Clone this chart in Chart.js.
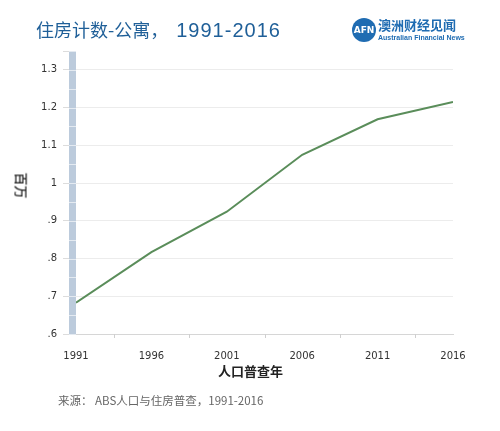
<!DOCTYPE html>
<html lang="zh-CN">
<head>
    <meta charset="UTF-8">
    <title>住房计数-公寓</title>
    <script src="https://cdn.jsdelivr.net/npm/chart.js"></script>
    <style>
        body {
            margin: 0;
            padding: 0;
            background: #fff;
            font-family: "Noto Sans CJK SC", "Noto Sans", sans-serif;
        }
        #wrap {
            position: relative;
            width: 500px;
            height: 431px;
            overflow: hidden;
        }
        #chart {
            position: absolute;
            left: 0;
            top: 0;
        }
        .txt {
            position: absolute;
            white-space: nowrap;
        }
        #title {
            left: 36px;
            top: 16px;
            font-size: 18px;
            color: #1f5f98;
        }
        #title .num {
            font-family: "Liberation Sans", sans-serif;
            font-size: 20px;
            letter-spacing: 1px;
            margin-left: 8px;
        }
        #logo {
            left: 352px;
            top: 18px;
            width: 24px;
            height: 24px;
            border-radius: 50%;
            background: #1f6cb2;
            color: #fff;
            font: bold 9px "DejaVu Sans", sans-serif;
            text-align: center;
            line-height: 24px;
        }
        #logoCn {
            left: 378px;
            top: 15px;
            font-size: 13px;
            font-weight: 600;
            color: #1f6cb2;
        }
        #logoEn {
            left: 378px;
            top: 34px;
            font: bold 7px "Liberation Sans", sans-serif;
            color: #1f6cb2;
        }
        #ytitle {
            left: 9px;
            top: 176px;
            font-size: 13px;
            font-weight: 500;
            color: #222;
            transform: rotate(90deg);
            transform-origin: 50% 50%;
        }
        #xtitle {
            left: 218px;
            top: 361px;
            font-size: 13px;
            font-weight: 600;
            color: #222;
        }
        #source {
            left: 58px;
            top: 392px;
            font-size: 11.5px;
            color: #666;
        }
    </style>
</head>
<body>
    <div id="wrap">
        <canvas id="chart" width="500" height="431"></canvas>
        <div class="txt" id="title">住房计数-公寓，<span class="num">1991-2016</span></div>
        <div class="txt" id="logo">AFN</div>
        <div class="txt" id="logoCn">澳洲财经见闻</div>
        <div class="txt" id="logoEn">Australian Financial News</div>
        <div class="txt" id="ytitle">百万</div>
        <div class="txt" id="xtitle">人口普查年</div>
        <div class="txt" id="source">来源： ABS人口与住房普查，1991-2016</div>
    </div>

    <script>
        // 人口普查年份
        var years = [1991, 1996, 2001, 2006, 2011, 2016];
        // 公寓数量（百万）
        var apartments = [0.683, 0.817, 0.924, 1.075, 1.169, 1.215];
        // 刻度
        var yTicks = [0.6, 0.7, 0.8, 0.9, 1.0, 1.1, 1.2, 1.3];
        var yTickLabels = [".6", ".7", ".8", ".9", "1", "1.1", "1.2", "1.3"];

        var yMin = 0.6, yMax = 1.35;

        // 左侧的蓝灰色竖条 + 年份之间的小刻度
        var decorPlugin = {
            id: 'decor',
            afterDraw: function(chart) {
                var ctx = chart.ctx;
                var area = chart.chartArea;
                var y = chart.scales.y;
                var x = chart.scales.x;
                ctx.save();
                ctx.fillStyle = '#bccbdc';
                ctx.fillRect(area.left - 7, area.top, 7, area.bottom - area.top);
                ctx.strokeStyle = '#e4eaf1';
                ctx.lineWidth = 1;
                for (var v = yMin; v <= yMax + 0.001; v += 0.05) {
                    var py = Math.round(y.getPixelForValue(v)) + 0.5;
                    ctx.beginPath();
                    ctx.moveTo(area.left - 7, py);
                    ctx.lineTo(area.left, py);
                    ctx.stroke();
                }
                // 顶部的短刻度
                ctx.strokeStyle = '#dcdcdc';
                ctx.beginPath();
                ctx.moveTo(area.left - 13, area.top + 0.5);
                ctx.lineTo(area.left - 7, area.top + 0.5);
                ctx.stroke();
                // x轴刻度在年份之间
                ctx.strokeStyle = '#cfcfcf';
                for (var i = 0; i < years.length - 1; i++) {
                    var px = Math.round(x.getPixelForValue((years[i] + years[i + 1]) / 2)) + 0.5;
                    ctx.beginPath();
                    ctx.moveTo(px, area.bottom);
                    ctx.lineTo(px, area.bottom + 4);
                    ctx.stroke();
                }
                ctx.restore();
            }
        };

        var ctx = document.getElementById('chart').getContext('2d');
        var chart = new Chart(ctx, {
            type: 'line',
            data: {
                datasets: [{
                    data: years.map(function(yr, i) { return { x: yr, y: apartments[i] }; }),
                    borderColor: '#5a8d5a',
                    borderWidth: 2,
                    pointRadius: 0,
                    tension: 0,
                    fill: false
                }]
            },
            options: {
                responsive: false,
                animation: false,
                layout: {
                    padding: { top: 51, right: 47, bottom: 57, left: 0 }
                },
                plugins: {
                    legend: { display: false },
                    tooltip: { enabled: false }
                },
                scales: {
                    x: {
                        type: 'linear',
                        min: years[0],
                        max: years[years.length - 1],
                        afterBuildTicks: function(scale) {
                            scale.ticks = years.map(function(v) { return { value: v }; });
                        },
                        afterFit: function(scale) { scale.height = 40; },
                        grid: { display: false },
                        border: { display: true, color: '#d6d6d6', width: 1 },
                        ticks: {
                            color: '#333',
                            font: { family: 'DejaVu Sans', size: 10 },
                            padding: 8,
                            maxRotation: 0,
                            callback: function(v) { return String(v); }
                        }
                    },
                    y: {
                        min: yMin,
                        max: yMax,
                        afterBuildTicks: function(scale) {
                            scale.ticks = yTicks.map(function(v) { return { value: v }; });
                        },
                        afterFit: function(scale) { scale.width = 76; },
                        grid: {
                            color: '#ececec',
                            tickColor: '#dcdcdc',
                            tickLength: 13,
                            lineWidth: 1
                        },
                        border: { display: false },
                        ticks: {
                            color: '#333',
                            font: { family: 'DejaVu Sans', size: 10 },
                            padding: 6,
                            callback: function(v) {
                                var i = yTicks.findIndex(function(t) { return Math.abs(t - v) < 0.001; });
                                return i >= 0 ? yTickLabels[i] : '';
                            }
                        }
                    }
                }
            },
            plugins: [decorPlugin]
        });
    </script>
</body>
</html>
